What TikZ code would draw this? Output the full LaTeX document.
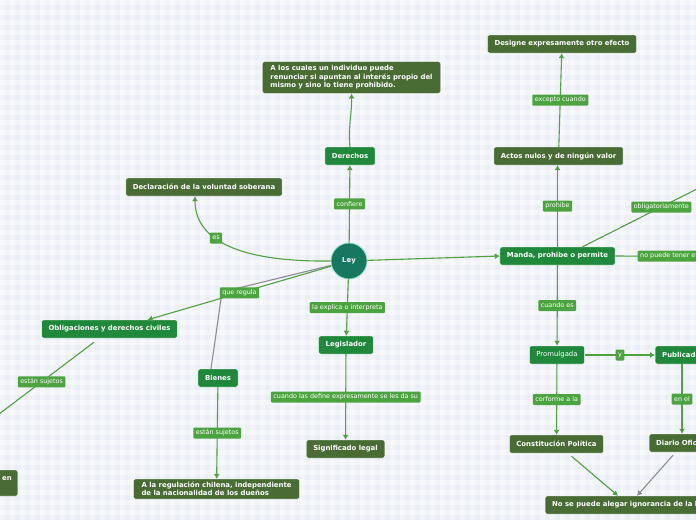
\documentclass[tikz,border=0pt]{standalone}
\usepackage{fontspec}
\setmainfont{DejaVu Sans}
\usetikzlibrary{arrows.meta}
\definecolor{bg}{RGB}{234,238,246}
\definecolor{bright}{RGB}{32,136,58}
\definecolor{olive}{RGB}{72,108,52}
\definecolor{lab}{RGB}{76,164,64}
\definecolor{conn}{RGB}{78,162,64}
\definecolor{grayc}{RGB}{140,140,152}
\definecolor{leyc}{RGB}{22,120,95}
\definecolor{leyb}{RGB}{150,225,205}
\begin{document}
\begin{tikzpicture}[x=1pt,y=-1pt,
 base/.style={rounded corners=2pt, text=white, font=\fontsize{6.9}{8.4}\selectfont\bfseries, minimum height=18pt, inner xsep=7pt, draw=white, line width=0.4pt},
 bnode/.style={base, fill=bright},
 onode/.style={base, fill=olive},
 lbl/.style={rounded corners=1pt, fill=lab, text=white, font=\fontsize{6.4}{7.2}\selectfont, inner xsep=2.5pt, inner ysep=2pt, minimum height=11pt},
 link/.style={draw=conn, line width=1.1pt},
 arr/.style={link, -{Latex[length=5pt,width=6pt]}},
 garr/.style={draw=grayc, line width=1.1pt, -{Latex[length=5pt,width=6pt]}},
 gline/.style={draw=grayc, line width=1.1pt},
]
\clip (0,0) rectangle (696,520);
\useasboundingbox (0,0) rectangle (696,520);
\fill[bg] (0,0) rectangle (696,520);
\foreach \i in {0,10,...,690} {\fill[white,opacity=0.4] (\i,0) rectangle (\i+5,520);}
\foreach \j in {0,10,...,520} {\fill[white,opacity=0.4] (0,\j) rectangle (696,\j+5);}

% nodes
\node[circle, fill=leyc, draw=leyb, line width=0.8pt, minimum size=36pt, text=white, font=\fontsize{6.9}{8}\selectfont\bfseries] (ley) at (349,261) {Ley};
\node[bnode] (der) at (350,156) {Derechos};
\node[onode, align=left, inner ysep=4pt, inner xsep=8pt] (alos) at (351.5,77.5) {A los cuales un individuo puede\\renunciar si apuntan al interés propio del\\mismo y sino lo tiene prohibido.};
\node[onode] (decl) at (204,187) {Declaración de la voluntad soberana};
\node[onode] (dis) at (562,44) {Designe expresamente otro efecto};
\node[onode] (act) at (558.5,156) {Actos nulos y de ningún valor};
\node[onode, minimum width=80pt] (rt) at (738,154) {};
\node[bnode] (man) at (557.5,256) {Manda, prohibe o permite};
\node[bnode, font=\fontsize{6.9}{8.4}\selectfont] (prom) at (557,355) {Promulgada};
\node[bnode, anchor=west] (pub) at (655,355) {Publicada};
\node[onode] (const) at (556.5,444) {Constitución Política};
\node[onode, anchor=west] (diario) at (649,443) {Diario Oficial};
\node[onode, anchor=west] (nose) at (545,505) {No se puede alegar ignorancia de la ley};
\node[bnode] (leg) at (346,345) {Legislador};
\node[onode] (sig) at (345.5,449) {Significado legal};
\node[bnode] (obl) at (109.5,329) {Obligaciones y derechos civiles};
\node[bnode] (bien) at (218,378) {Bienes};
\node[onode, align=left, inner ysep=3pt, inner xsep=8pt] (areg) at (216.5,489) {A la regulación chilena, independiente\\de la nacionalidad de los dueños};
\node[onode, anchor=east, align=right, text width=80pt, minimum height=26pt, inner xsep=6pt] (bl) at (18,483) {en\\\mbox{}};

\coordinate (qrc) at (222,292);
\coordinate (farR) at (820,257);
\coordinate (blt) at (-75,470);

% connectors
\draw[gline] (ley) -- (qrc) -- ([xshift=-7pt]bien.north);
\draw[arr] (ley) -- node[lbl]{confiere} (der);
\draw[arr] (der.north) .. controls (348,128) and (352,112) .. (alos.south);
\draw[arr] (ley.west) .. controls (250,262) and (195,245) .. node[lbl,pos=0.63]{es} ([xshift=-9pt]decl.south);
\draw[arr] (ley) -- (man.west);
\draw[arr] (man.north) -- node[lbl]{prohibe} (act.south -| man.north);
\draw[arr] (act) -- node[lbl]{excepto cuando} (dis);
\draw[arr] ([xshift=25pt]man.north) -- node[lbl,pos=0.476]{obligatoriamente} ([xshift=10pt]rt.south);
\draw[arr] (man.east) -- node[lbl,anchor=west,pos=0.107]{no puede tener efecto retroactivo} (farR);
\draw[arr] (man) -- node[lbl]{cuando es} (prom);
\draw[arr] (prom) -- node[lbl]{y} (pub);
\draw[arr] (prom) -- node[lbl]{corforme a la} (const);
\draw[arr] ([xshift=27pt]pub.south west) -- node[lbl]{en el} ([xshift=33pt]diario.north west);
\draw[arr] ([xshift=15pt,yshift=-3pt]const.south) -- ([xshift=73pt]nose.north west);
\draw[garr] ([xshift=24pt,yshift=-3pt]diario.south west) -- ([xshift=92pt]nose.north west);
\draw[arr] (ley) -- node[lbl]{la explica o interpreta} (leg);
\draw[arr] (leg) -- node[lbl]{cuando las define expresamente se les da su} (sig);
\draw[arr] (ley) -- node[lbl]{que regula} ([xshift=38pt]obl.north);
\draw[arr] ([xshift=-15.5pt,yshift=-4pt]obl.south) -- node[lbl,pos=0.31]{están sujetos} (blt);
\draw[arr] (bien) -- node[lbl]{están sujetos} (areg);
\end{tikzpicture}
\end{document}
